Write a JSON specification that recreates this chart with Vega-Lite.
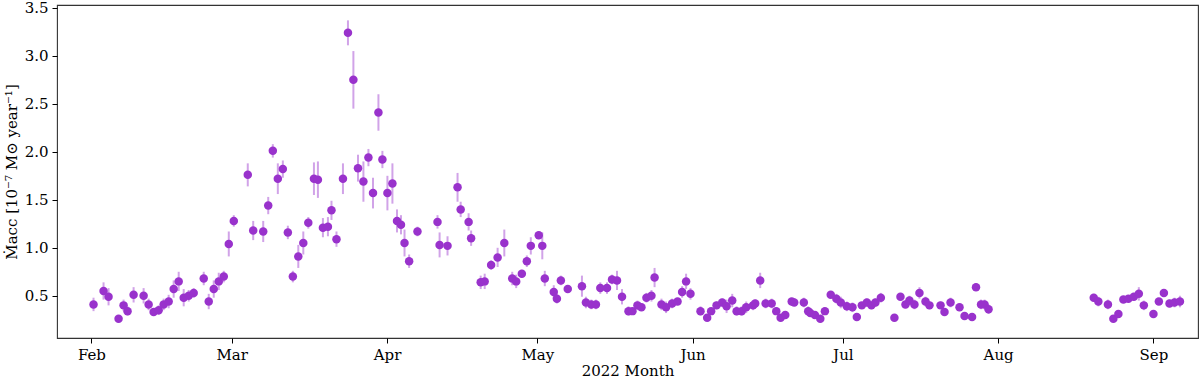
{
  "$schema": "https://vega.github.io/schema/vega-lite/v6.json",
  "width": 1141,
  "height": 333,
  "autosize": {"type": "none"},
  "padding": {"left": 57, "top": 5, "right": 2, "bottom": 40},
  "background": "white",
  "config": {
    "font": "DejaVu Serif",
    "view": {"stroke": "#333", "strokeWidth": 1.1},
    "axis": {
      "labelFont": "DejaVu Serif", "titleFont": "DejaVu Serif",
      "labelFontSize": 15, "titleFontSize": 15, "titleFontWeight": "normal",
      "labelColor": "#000", "titleColor": "#000",
      "tickColor": "#000", "tickSize": 5, "tickWidth": 1,
      "domainColor": "#333", "grid": false, "labelPadding": 4
    }
  },
  "data": {"values": [
    {"t": "2022-02-01T10:00", "v": 0.41, "e": 0.07},
    {"t": "2022-02-03T10:00", "v": 0.55, "e": 0.09},
    {"t": "2022-02-04T10:00", "v": 0.49, "e": 0.09},
    {"t": "2022-02-06T10:00", "v": 0.26, "e": 0.03},
    {"t": "2022-02-07T10:00", "v": 0.40, "e": 0.06},
    {"t": "2022-02-08T05:00", "v": 0.34, "e": 0.05},
    {"t": "2022-02-09T10:00", "v": 0.51, "e": 0.08},
    {"t": "2022-02-11T10:00", "v": 0.50, "e": 0.08},
    {"t": "2022-02-12T10:00", "v": 0.41, "e": 0.06},
    {"t": "2022-02-13T10:00", "v": 0.33, "e": 0.04},
    {"t": "2022-02-14T10:00", "v": 0.35, "e": 0.05},
    {"t": "2022-02-15T10:00", "v": 0.41, "e": 0.06},
    {"t": "2022-02-16T10:00", "v": 0.44, "e": 0.07},
    {"t": "2022-02-17T10:00", "v": 0.57, "e": 0.09},
    {"t": "2022-02-18T10:00", "v": 0.65, "e": 0.10},
    {"t": "2022-02-19T10:00", "v": 0.48, "e": 0.09},
    {"t": "2022-02-20T10:00", "v": 0.50, "e": 0.06},
    {"t": "2022-02-21T10:00", "v": 0.53, "e": 0.05},
    {"t": "2022-02-23T10:00", "v": 0.68, "e": 0.07},
    {"t": "2022-02-24T10:00", "v": 0.44, "e": 0.08},
    {"t": "2022-02-25T10:00", "v": 0.57, "e": 0.09},
    {"t": "2022-02-26T10:00", "v": 0.65, "e": 0.09},
    {"t": "2022-02-27T10:00", "v": 0.70, "e": 0.06},
    {"t": "2022-02-28T10:00", "v": 1.04, "e": 0.13},
    {"t": "2022-03-01T10:00", "v": 1.28, "e": 0.06},
    {"t": "2022-03-04T05:00", "v": 1.76, "e": 0.12},
    {"t": "2022-03-05T07:00", "v": 1.18, "e": 0.10},
    {"t": "2022-03-07T07:00", "v": 1.17, "e": 0.11},
    {"t": "2022-03-08T07:00", "v": 1.44, "e": 0.09},
    {"t": "2022-03-09T05:00", "v": 2.01, "e": 0.07},
    {"t": "2022-03-10T05:00", "v": 1.72, "e": 0.16},
    {"t": "2022-03-11T05:00", "v": 1.82, "e": 0.09},
    {"t": "2022-03-12T05:00", "v": 1.16, "e": 0.07},
    {"t": "2022-03-13T05:00", "v": 0.70, "e": 0.06},
    {"t": "2022-03-14T07:00", "v": 0.91, "e": 0.12},
    {"t": "2022-03-15T07:00", "v": 1.05, "e": 0.12},
    {"t": "2022-03-16T07:00", "v": 1.26, "e": 0.06},
    {"t": "2022-03-17T10:00", "v": 1.72, "e": 0.17},
    {"t": "2022-03-18T05:00", "v": 1.71, "e": 0.19},
    {"t": "2022-03-19T05:00", "v": 1.21, "e": 0.10},
    {"t": "2022-03-20T05:00", "v": 1.22, "e": 0.10},
    {"t": "2022-03-20T22:00", "v": 1.39, "e": 0.10},
    {"t": "2022-03-21T22:00", "v": 1.09, "e": 0.08},
    {"t": "2022-03-23T05:00", "v": 1.72, "e": 0.16},
    {"t": "2022-03-24T05:00", "v": 3.24, "e": 0.13},
    {"t": "2022-03-25T07:00", "v": 2.75, "e": 0.30},
    {"t": "2022-03-26T05:00", "v": 1.83, "e": 0.14},
    {"t": "2022-03-27T07:00", "v": 1.69, "e": 0.21},
    {"t": "2022-03-28T07:00", "v": 1.94, "e": 0.09},
    {"t": "2022-03-29T05:00", "v": 1.57, "e": 0.16},
    {"t": "2022-03-30T07:00", "v": 2.41, "e": 0.19},
    {"t": "2022-03-31T02:00", "v": 1.92, "e": 0.09},
    {"t": "2022-04-01T02:00", "v": 1.57, "e": 0.18},
    {"t": "2022-04-02T02:00", "v": 1.67, "e": 0.21},
    {"t": "2022-04-03T00:00", "v": 1.28, "e": 0.12},
    {"t": "2022-04-03T19:00", "v": 1.24, "e": 0.10},
    {"t": "2022-04-04T12:00", "v": 1.05, "e": 0.14},
    {"t": "2022-04-05T10:00", "v": 0.86, "e": 0.07},
    {"t": "2022-04-07T02:00", "v": 1.17, "e": 0.05},
    {"t": "2022-04-11T02:00", "v": 1.27, "e": 0.07},
    {"t": "2022-04-11T12:00", "v": 1.03, "e": 0.13},
    {"t": "2022-04-13T02:00", "v": 1.02, "e": 0.10},
    {"t": "2022-04-15T02:00", "v": 1.63, "e": 0.15},
    {"t": "2022-04-15T17:00", "v": 1.40, "e": 0.08},
    {"t": "2022-04-17T07:00", "v": 1.27, "e": 0.09},
    {"t": "2022-04-17T19:00", "v": 1.10, "e": 0.08},
    {"t": "2022-04-19T17:00", "v": 0.64, "e": 0.07},
    {"t": "2022-04-20T12:00", "v": 0.65, "e": 0.08},
    {"t": "2022-04-21T19:00", "v": 0.82, "e": 0.05},
    {"t": "2022-04-23T02:00", "v": 0.90, "e": 0.10},
    {"t": "2022-04-24T10:00", "v": 1.05, "e": 0.14},
    {"t": "2022-04-26T00:00", "v": 0.68, "e": 0.07},
    {"t": "2022-04-26T19:00", "v": 0.65, "e": 0.07},
    {"t": "2022-04-27T22:00", "v": 0.73, "e": 0.04},
    {"t": "2022-04-28T22:00", "v": 0.86, "e": 0.06},
    {"t": "2022-04-29T17:00", "v": 1.02, "e": 0.09},
    {"t": "2022-05-01T07:00", "v": 1.13, "e": 0.04},
    {"t": "2022-05-02T00:00", "v": 1.02, "e": 0.14},
    {"t": "2022-05-02T12:00", "v": 0.68, "e": 0.08},
    {"t": "2022-05-04T07:00", "v": 0.54, "e": 0.07},
    {"t": "2022-05-04T22:00", "v": 0.47, "e": 0.05},
    {"t": "2022-05-05T17:00", "v": 0.66, "e": 0.05},
    {"t": "2022-05-07T02:00", "v": 0.57, "e": 0.03},
    {"t": "2022-05-09T22:00", "v": 0.60, "e": 0.11},
    {"t": "2022-05-10T17:00", "v": 0.43, "e": 0.06},
    {"t": "2022-05-11T19:00", "v": 0.41, "e": 0.05},
    {"t": "2022-05-12T17:00", "v": 0.41, "e": 0.05},
    {"t": "2022-05-13T14:00", "v": 0.58, "e": 0.06},
    {"t": "2022-05-14T22:00", "v": 0.58, "e": 0.06},
    {"t": "2022-05-15T22:00", "v": 0.67, "e": 0.05},
    {"t": "2022-05-16T22:00", "v": 0.66, "e": 0.10},
    {"t": "2022-05-17T22:00", "v": 0.49, "e": 0.08},
    {"t": "2022-05-19T05:00", "v": 0.34, "e": 0.05},
    {"t": "2022-05-20T00:00", "v": 0.34, "e": 0.04},
    {"t": "2022-05-21T00:00", "v": 0.40, "e": 0.05},
    {"t": "2022-05-21T19:00", "v": 0.38, "e": 0.03},
    {"t": "2022-05-22T19:00", "v": 0.48, "e": 0.05},
    {"t": "2022-05-23T19:00", "v": 0.50, "e": 0.06},
    {"t": "2022-05-24T10:00", "v": 0.69, "e": 0.10},
    {"t": "2022-05-25T19:00", "v": 0.41, "e": 0.06},
    {"t": "2022-05-26T17:00", "v": 0.38, "e": 0.06},
    {"t": "2022-05-27T22:00", "v": 0.42, "e": 0.05},
    {"t": "2022-05-29T00:00", "v": 0.44, "e": 0.03},
    {"t": "2022-05-29T22:00", "v": 0.54, "e": 0.06},
    {"t": "2022-05-30T17:00", "v": 0.65, "e": 0.08},
    {"t": "2022-05-31T14:00", "v": 0.52, "e": 0.06},
    {"t": "2022-06-02T14:00", "v": 0.34, "e": 0.05},
    {"t": "2022-06-03T22:00", "v": 0.27, "e": 0.03},
    {"t": "2022-06-04T17:00", "v": 0.34, "e": 0.03},
    {"t": "2022-06-05T19:00", "v": 0.40, "e": 0.04},
    {"t": "2022-06-06T22:00", "v": 0.43, "e": 0.04},
    {"t": "2022-06-07T19:00", "v": 0.39, "e": 0.07},
    {"t": "2022-06-08T22:00", "v": 0.45, "e": 0.07},
    {"t": "2022-06-09T19:00", "v": 0.34, "e": 0.05},
    {"t": "2022-06-10T19:00", "v": 0.34, "e": 0.05},
    {"t": "2022-06-11T17:00", "v": 0.38, "e": 0.06},
    {"t": "2022-06-13T02:00", "v": 0.40, "e": 0.05},
    {"t": "2022-06-13T12:00", "v": 0.42, "e": 0.04},
    {"t": "2022-06-14T12:00", "v": 0.66, "e": 0.08},
    {"t": "2022-06-15T14:00", "v": 0.42, "e": 0.05},
    {"t": "2022-06-16T19:00", "v": 0.42, "e": 0.05},
    {"t": "2022-06-17T17:00", "v": 0.34, "e": 0.04},
    {"t": "2022-06-18T14:00", "v": 0.27, "e": 0.03},
    {"t": "2022-06-19T12:00", "v": 0.30, "e": 0.03},
    {"t": "2022-06-20T19:00", "v": 0.44, "e": 0.03},
    {"t": "2022-06-21T07:00", "v": 0.43, "e": 0.03},
    {"t": "2022-06-23T05:00", "v": 0.43, "e": 0.05},
    {"t": "2022-06-24T02:00", "v": 0.34, "e": 0.05},
    {"t": "2022-06-24T12:00", "v": 0.32, "e": 0.04},
    {"t": "2022-06-25T10:00", "v": 0.30, "e": 0.04},
    {"t": "2022-06-26T12:00", "v": 0.26, "e": 0.03},
    {"t": "2022-06-27T10:00", "v": 0.34, "e": 0.03},
    {"t": "2022-06-28T14:00", "v": 0.51, "e": 0.03},
    {"t": "2022-06-29T17:00", "v": 0.47, "e": 0.05},
    {"t": "2022-06-30T14:00", "v": 0.43, "e": 0.06},
    {"t": "2022-07-01T19:00", "v": 0.39, "e": 0.05},
    {"t": "2022-07-02T22:00", "v": 0.38, "e": 0.05},
    {"t": "2022-07-03T19:00", "v": 0.28, "e": 0.03},
    {"t": "2022-07-04T19:00", "v": 0.40, "e": 0.03},
    {"t": "2022-07-05T19:00", "v": 0.43, "e": 0.04},
    {"t": "2022-07-06T17:00", "v": 0.40, "e": 0.04},
    {"t": "2022-07-07T12:00", "v": 0.43, "e": 0.04},
    {"t": "2022-07-08T14:00", "v": 0.48, "e": 0.05},
    {"t": "2022-07-11T07:00", "v": 0.27, "e": 0.03},
    {"t": "2022-07-12T12:00", "v": 0.49, "e": 0.03},
    {"t": "2022-07-13T12:00", "v": 0.41, "e": 0.04},
    {"t": "2022-07-14T07:00", "v": 0.45, "e": 0.05},
    {"t": "2022-07-15T07:00", "v": 0.41, "e": 0.05},
    {"t": "2022-07-16T07:00", "v": 0.53, "e": 0.06},
    {"t": "2022-07-17T12:00", "v": 0.44, "e": 0.05},
    {"t": "2022-07-18T07:00", "v": 0.40, "e": 0.04},
    {"t": "2022-07-20T12:00", "v": 0.40, "e": 0.04},
    {"t": "2022-07-21T07:00", "v": 0.33, "e": 0.03},
    {"t": "2022-07-22T12:00", "v": 0.43, "e": 0.05},
    {"t": "2022-07-24T07:00", "v": 0.38, "e": 0.04},
    {"t": "2022-07-25T07:00", "v": 0.29, "e": 0.03},
    {"t": "2022-07-26T19:00", "v": 0.28, "e": 0.03},
    {"t": "2022-07-27T14:00", "v": 0.59, "e": 0.04},
    {"t": "2022-07-28T14:00", "v": 0.41, "e": 0.05},
    {"t": "2022-07-29T07:00", "v": 0.41, "e": 0.05},
    {"t": "2022-07-30T02:00", "v": 0.36, "e": 0.05},
    {"t": "2022-08-20T02:00", "v": 0.48, "e": 0.04},
    {"t": "2022-08-21T00:00", "v": 0.44, "e": 0.05},
    {"t": "2022-08-22T22:00", "v": 0.41, "e": 0.05},
    {"t": "2022-08-24T00:00", "v": 0.26, "e": 0.03},
    {"t": "2022-08-25T00:00", "v": 0.31, "e": 0.03},
    {"t": "2022-08-26T00:00", "v": 0.46, "e": 0.03},
    {"t": "2022-08-27T00:00", "v": 0.47, "e": 0.03},
    {"t": "2022-08-28T02:00", "v": 0.49, "e": 0.04},
    {"t": "2022-08-29T02:00", "v": 0.52, "e": 0.07},
    {"t": "2022-08-30T02:00", "v": 0.40, "e": 0.05},
    {"t": "2022-09-01T00:00", "v": 0.31, "e": 0.03},
    {"t": "2022-09-02T02:00", "v": 0.44, "e": 0.03},
    {"t": "2022-09-03T02:00", "v": 0.53, "e": 0.03},
    {"t": "2022-09-04T05:00", "v": 0.42, "e": 0.04},
    {"t": "2022-09-05T05:00", "v": 0.43, "e": 0.05},
    {"t": "2022-09-06T07:00", "v": 0.44, "e": 0.06}
  ]},
  "encoding": {
    "x": {
      "field": "t", "type": "temporal",
      "scale": {"domain": [{"year": 2022, "month": 1, "date": 25, "hours": 3}, {"year": 2022, "month": 9, "date": 9, "hours": 21, "minutes": 30}], "nice": false},
      "axis": {"title": "2022 Month", "format": "%b", "tickCount": {"interval": "month", "step": 1}, "labelAngle": 0, "titlePadding": 1, "domain": false, "labelFlush": false}
    },
    "y": {
      "field": "v", "type": "quantitative",
      "scale": {"domain": [0.06, 3.53], "nice": false, "zero": false},
      "axis": {"title": "Ṁacc [10⁻⁷ M⊙ year⁻¹]", "values": [0.5, 1.0, 1.5, 2.0, 2.5, 3.0, 3.5], "format": ".1f", "titlePadding": 5, "domain": false}
    }
  },
  "layer": [
    {
      "mark": {"type": "errorbar", "color": "#9932CC", "opacity": 0.45, "thickness": 2, "ticks": false},
      "encoding": {"yError": {"field": "e"}}
    },
    {
      "mark": {"type": "point", "filled": true, "size": 72, "color": "#9932CC", "opacity": 1}
    }
  ]
}
